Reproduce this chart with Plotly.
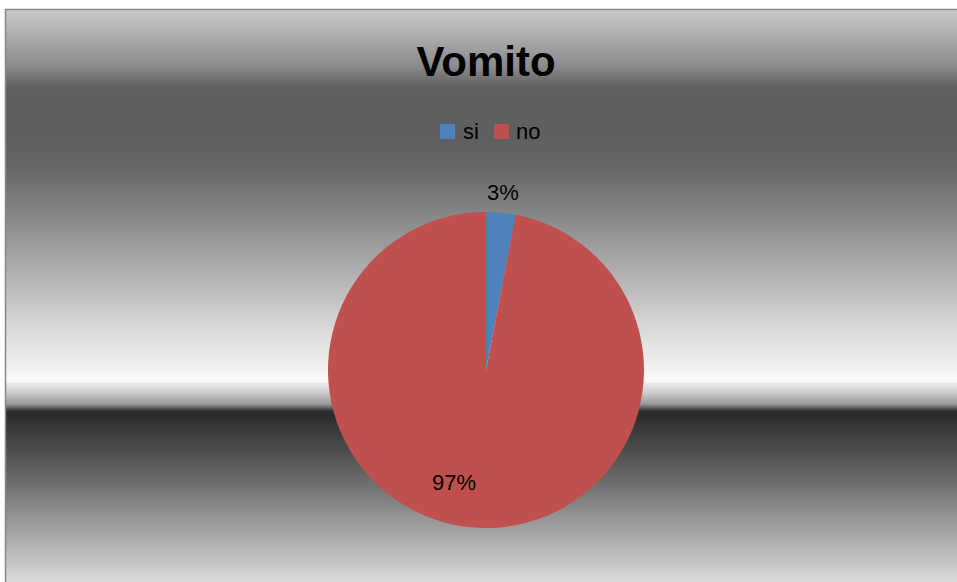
import numpy as np
import plotly.graph_objects as go

# --- data ---
categories = ["si", "no"]
values = [3, 97]
slice_colors = ["#4F81BD", "#C0504D"]
title_text = "Vomito"

W, H = 957, 582
FONT = "Liberation Sans"

# chrome-style background: (pixel row from top, gray level)
GRADIENT_STOPS = [
    (9, 202), (33, 176), (67, 138), (85, 100), (90, 95), (140, 95),
    (167, 102), (200, 124), (250, 160), (300, 195), (340, 225),
    (367, 240), (378, 250), (382, 250), (383, 235), (388, 220),
    (392, 205), (397, 185), (400, 170), (404, 155), (406, 120),
    (409, 80), (411, 46), (415, 44), (447, 74), (480, 106),
    (513, 144), (547, 180), (582, 218),
]
FRAME_LEFT, FRAME_TOP = 6, 10

stop_y = np.array([s[0] for s in GRADIENT_STOPS], dtype=float)
stop_g = np.array([s[1] for s in GRADIENT_STOPS], dtype=float)


def px_x(x):
    return x / W


def px_y(y):
    return 1 - y / H


shapes = []
for row in range(FRAME_TOP, H):
    g = int(round(np.interp(row + 0.5, stop_y, stop_g)))
    shapes.append(dict(
        type="rect", xref="paper", yref="paper", layer="below",
        x0=px_x(FRAME_LEFT), x1=1.01,
        y0=px_y(row + 1), y1=px_y(row),
        fillcolor=f"rgb({g},{g},{g})", line=dict(width=0),
    ))
# chart-area outline
shapes.append(dict(
    type="rect", xref="paper", yref="paper", layer="below",
    x0=px_x(FRAME_LEFT - 0.5), x1=1.05,
    y0=-0.05, y1=px_y(FRAME_TOP - 0.5),
    line=dict(color="#868686", width=1.5), fillcolor="rgba(0,0,0,0)",
))

# pie geometry (pixels)
cx, cy, r = 486, 370, 158

fig = go.Figure(go.Pie(
    labels=categories,
    values=values,
    sort=False,
    direction="clockwise",
    rotation=0,
    marker=dict(colors=slice_colors, line=dict(width=0)),
    textinfo="none",
    domain=dict(x=[px_x(cx - r), px_x(cx + r)],
                y=[px_y(cy + r), px_y(cy - r)]),
    hoverinfo="label+percent",
    showlegend=False,
))

# percentage labels: small slice outside at its mid-angle, large one inside
total = float(sum(values))
annotations = []
start = 0.0
label_offsets = [("outside", 20), ("inside", None)]
for v, (mode, gap) in zip(values, label_offsets):
    frac = v / total
    mid = 2 * np.pi * (start + frac / 2)
    if mode == "outside":
        rr = r + gap
        lx, ly = cx + rr * np.sin(mid), cy - rr * np.cos(mid)
    else:
        ang = mid + np.radians(10.5)
        rr = 0.74 * r
        lx, ly = cx + rr * np.sin(ang), cy - rr * np.cos(ang)
    annotations.append(dict(
        x=px_x(lx), y=px_y(ly), xref="paper", yref="paper",
        text=f"{round(frac * 100)}%", showarrow=False,
        xanchor="center", yanchor="middle",
        font=dict(family=FONT, size=22, color="#000000"),
    ))
    start += frac

# legend: colour squares followed by category names
legend_items = [(440, 462), (494, 515)]
legend_y = 131
for name, col, (sx, tx) in zip(categories, slice_colors, legend_items):
    shapes.append(dict(
        type="rect", xref="paper", yref="paper",
        x0=px_x(sx), x1=px_x(sx + 15),
        y0=px_y(legend_y + 8), y1=px_y(legend_y - 7),
        fillcolor=col, line=dict(width=0),
    ))
    annotations.append(dict(
        x=px_x(tx - 1), y=px_y(legend_y + 1), xref="paper", yref="paper",
        text=name, showarrow=False, xanchor="left", yanchor="middle",
        font=dict(family=FONT, size=22, color="#000000"),
    ))

fig.update_layout(
    width=W, height=H,
    margin=dict(l=0, r=0, t=0, b=0),
    paper_bgcolor="white",
    plot_bgcolor="rgba(0,0,0,0)",
    shapes=shapes,
    annotations=annotations,
    title=dict(text=f"<b>{title_text}</b>", x=px_x(486), xanchor="center",
               y=px_y(61), yanchor="middle",
               font=dict(family=FONT, size=42, color="#000000")),
    showlegend=False,
)

fig.write_html("out.html")
